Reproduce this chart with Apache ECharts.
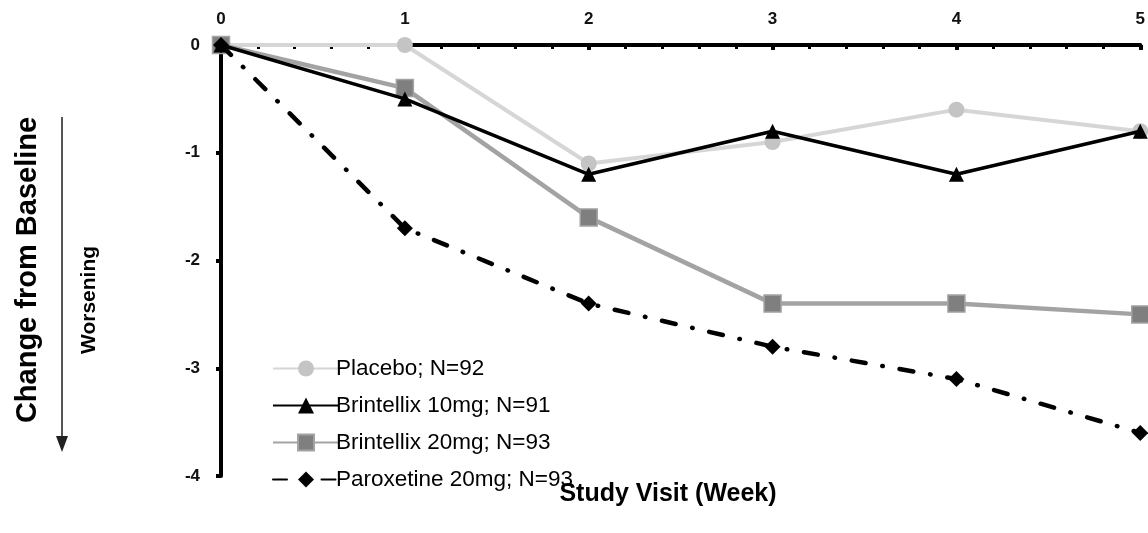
<!DOCTYPE html>
<html>
<head>
<meta charset="utf-8">
<script src="https://cdn.jsdelivr.net/npm/echarts@6/dist/echarts.min.js"></script>
<style>
  html, body { margin: 0; padding: 0; background: #fff; }
  #chart { width: 1148px; height: 533px; }
</style>
</head>
<body>
<div id="chart"></div>
<script>
// study visit weeks and mean change from baseline per arm
var weeks = [0, 1, 2, 3, 4, 5];
var placebo = [0, 0, -1.1, -0.9, -0.6, -0.8];
var brint10 = [0, -0.5, -1.2, -0.8, -1.2, -0.8];
var brint20 = [0, -0.4, -1.6, -2.4, -2.4, -2.5];
var parox20 = [0, -1.7, -2.4, -2.8, -3.1, -3.6];
var names = ['Placebo; N=92', 'Brintellix 10mg; N=91', 'Brintellix 20mg; N=93', 'Paroxetine 20mg; N=93'];

function pairs(vals) { return weeks.map(function (w, i) { return [w, vals[i]]; }); }

var tickFont = { fontFamily: 'Liberation Sans', fontWeight: 'bold', fontSize: 17, color: '#111' };
function nameFont(size) { return { fontFamily: 'Liberation Sans', fontWeight: 'bold', fontSize: size, fill: '#000' }; }

var chart = echarts.init(document.getElementById('chart'));
chart.setOption({
  animation: false,
  backgroundColor: '#fff',
  grid: { left: 221, right: 2, top: 45, bottom: 57 },
  xAxis: {
    type: 'value', position: 'top', min: 0, max: 5, interval: 1,
    axisLine: { onZero: false, lineStyle: { color: '#000', width: 4 } },
    axisTick: { show: true, inside: true, length: 5, lineStyle: { color: '#000', width: 4 } },
    minorTick: { show: true, splitNumber: 5, length: 4, lineStyle: { color: '#000', width: 3 } },
    splitLine: { show: false },
    axisLabel: Object.assign({ margin: 17 }, tickFont)
  },
  yAxis: {
    type: 'value', min: -4, max: 0, interval: 1,
    axisLine: { show: true, onZero: false, lineStyle: { color: '#000', width: 4 } },
    axisTick: { show: true, length: 5, lineStyle: { color: '#000', width: 4 } },
    splitLine: { show: false },
    axisLabel: Object.assign({ margin: 21 }, tickFont)
  },
  legend: {
    orient: 'vertical', left: 267, top: 352, itemWidth: 66, itemHeight: 20, itemGap: 14,
    textStyle: { fontFamily: 'Liberation Sans', fontSize: 22.5, lineHeight: 20, color: '#000', padding: [0, 0, 0, -8] },
    data: names
  },
  series: [
    { name: names[0], type: 'line', data: pairs(placebo), z: 5,
      symbol: 'circle', symbolSize: 16,
      lineStyle: { color: '#d6d6d6', width: 4 }, itemStyle: { color: '#c4c4c4' } },
    { name: names[1], type: 'line', data: pairs(brint10), z: 6,
      symbol: 'triangle', symbolSize: 15,
      lineStyle: { color: '#000', width: 3.5 }, itemStyle: { color: '#000' } },
    { name: names[2], type: 'line', data: pairs(brint20), z: 5,
      symbol: 'rect', symbolSize: 17,
      lineStyle: { color: '#a3a3a3', width: 4.5 }, itemStyle: { color: '#7f7f7f', borderColor: '#a3a3a3', borderWidth: 1.5 } },
    { name: names[3], type: 'line', data: pairs(parox20), z: 7,
      symbol: 'diamond', symbolSize: 16,
      lineStyle: { color: '#000', width: 4.5, type: [14, 17, 0.5, 17], cap: 'round' }, itemStyle: { color: '#000' } }
  ],
  graphic: [
    { type: 'text', x: 668, y: 494,
      style: Object.assign({ text: 'Study Visit (Week)', align: 'center', verticalAlign: 'middle' }, nameFont(25)) },
    { type: 'text', x: 28, y: 270, rotation: Math.PI / 2,
      style: Object.assign({ text: 'Change from Baseline', align: 'center', verticalAlign: 'middle' }, nameFont(29)) },
    { type: 'text', x: 89, y: 300, rotation: Math.PI / 2,
      style: Object.assign({ text: 'Worsening', align: 'center', verticalAlign: 'middle' }, nameFont(21)) },
    { type: 'line', shape: { x1: 62, y1: 117, x2: 62, y2: 440 }, style: { stroke: '#555', lineWidth: 2 } },
    { type: 'polygon', shape: { points: [[56, 436], [68, 436], [62, 452]] }, style: { fill: '#222' } }
  ]
});
</script>
</body>
</html>
